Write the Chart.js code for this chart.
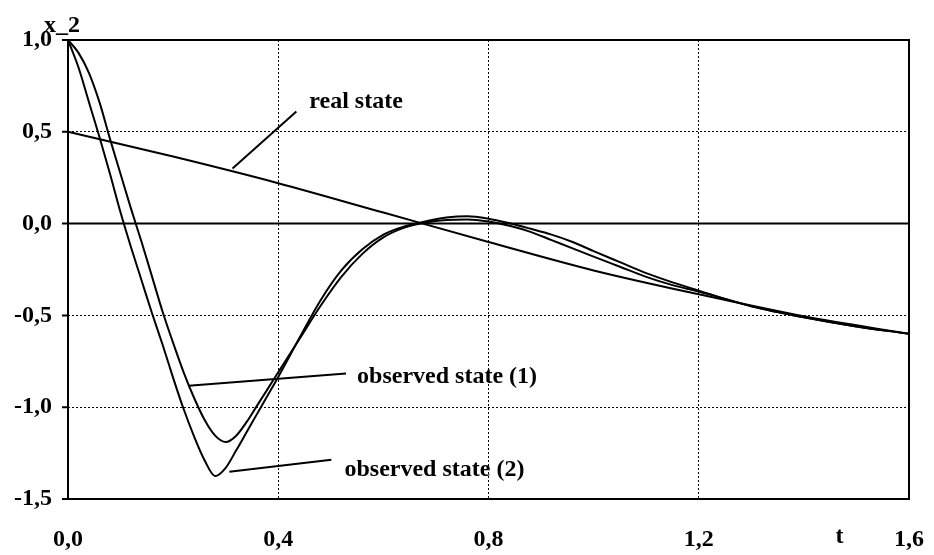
<!DOCTYPE html>
<html>
<head>
<meta charset="utf-8">
<script src="https://cdn.jsdelivr.net/npm/chart.js@4.4.1/dist/chart.umd.min.js"></script>
<style>
  html, body { margin: 0; padding: 0; background: #fff; }
</style>
</head>
<body>
<canvas id="chart" width="934" height="555"></canvas>
<script>
// tick labels (decimal comma as in the original)
const xTickLabels = ['0,0', '0,4', '0,8', '1,2', '1,6'];
const yTickLabels = ['-1,5', '-1,0', '-0,5', '0,0', '0,5', '1,0'];

// real state x_2(t)
const tReal = [0, 0.2, 0.4, 0.6, 0.8, 1.0, 1.2, 1.4, 1.6];
const realState = [0.5, 0.365, 0.22, 0.06, -0.10, -0.255, -0.385, -0.505, -0.60];

// observed states
const tObs = [0, 0.02, 0.04, 0.06, 0.08, 0.10, 0.12, 0.14, 0.16, 0.18, 0.20,
    0.22, 0.24, 0.26, 0.28, 0.30, 0.32, 0.34, 0.36, 0.38, 0.40,
    0.44, 0.48, 0.52, 0.56, 0.60, 0.64, 0.68, 0.72, 0.76, 0.80,
    0.84, 0.88, 0.92, 0.96, 1.00, 1.05, 1.10, 1.15, 1.20, 1.25,
    1.30, 1.40, 1.50, 1.60];
const observed1 = [1.0, 0.93, 0.82, 0.66, 0.46, 0.27, 0.08, -0.10, -0.29, -0.48, -0.65,
    -0.81, -0.95, -1.07, -1.155, -1.19, -1.155, -1.08, -0.99, -0.90, -0.81,
    -0.63, -0.45, -0.29, -0.165, -0.075, -0.022, 0.006, 0.02, 0.023, 0.012,
    -0.012, -0.045, -0.09, -0.135, -0.18, -0.235, -0.29, -0.335, -0.37, -0.41,
    -0.45, -0.51, -0.56, -0.60];
const observed2 = [1.0, 0.85, 0.66, 0.47, 0.27, 0.06, -0.13, -0.31, -0.49, -0.66, -0.84,
    -1.01, -1.16, -1.29, -1.375, -1.33, -1.235, -1.135, -1.035, -0.935, -0.835,
    -0.625, -0.42, -0.255, -0.14, -0.06, -0.015, 0.012, 0.033, 0.04, 0.027,
    0.002, -0.028, -0.06, -0.10, -0.15, -0.21, -0.27, -0.32, -0.365, -0.41,
    -0.45, -0.51, -0.56, -0.60];

// annotation labels with their leader lines, in data units
const notes = [
    { text: 'real state', at: [0.459, 0.627], from: [0.313, 0.30], to: [0.4345, 0.61] },
    { text: 'observed state (1)', at: [0.550, -0.866], from: [0.2296, -0.883], to: [0.529, -0.817] },
    { text: 'observed state (2)', at: [0.526, -1.373], from: [0.307, -1.351], to: [0.501, -1.286] }
];

const FONT = '"Liberation Serif", "Times New Roman", serif';

function toPoints(ts, vs) {
    return ts.map((t, i) => ({ x: t, y: vs[i] }));
}

function lineStyle(data) {
    return {
        data: data,
        borderColor: '#000',
        borderWidth: 2,
        pointRadius: 0,
        fill: false,
        cubicInterpolationMode: 'monotone',
        clip: false
    };
}

// solid frame, zero line, y tick marks, labels and leader lines
const decorations = {
    id: 'decorations',
    beforeDatasetsDraw(chart) {
        const { ctx, chartArea: a, scales: { x, y } } = chart;
        ctx.save();
        ctx.strokeStyle = '#000';
        ctx.lineWidth = 2;
        ctx.strokeRect(a.left, a.top, a.right - a.left, a.bottom - a.top);
        const y0 = y.getPixelForValue(0);
        ctx.beginPath();
        ctx.moveTo(a.left, y0);
        ctx.lineTo(a.right, y0);
        y.ticks.forEach(t => {
            const py = y.getPixelForValue(t.value);
            ctx.moveTo(a.left - 6, py);
            ctx.lineTo(a.left, py);
        });
        ctx.stroke();
        ctx.restore();
    },
    afterDraw(chart) {
        const { ctx, chartArea: a, scales: { x, y } } = chart;
        ctx.save();
        ctx.strokeStyle = '#000';
        ctx.fillStyle = '#000';
        ctx.lineWidth = 2;
        notes.forEach(n => {
            ctx.beginPath();
            ctx.moveTo(x.getPixelForValue(n.from[0]), y.getPixelForValue(n.from[1]));
            ctx.lineTo(x.getPixelForValue(n.to[0]), y.getPixelForValue(n.to[1]));
            ctx.stroke();
            ctx.font = 'bold 24px ' + FONT;
            ctx.textAlign = 'left';
            ctx.textBaseline = 'alphabetic';
            ctx.fillText(n.text, x.getPixelForValue(n.at[0]), y.getPixelForValue(n.at[1]));
        });
        // axis names
        ctx.font = 'bold 24px ' + FONT;
        ctx.textAlign = 'center';
        ctx.fillText('x_2', a.left - 6, a.top - 8);
        ctx.fillText('t', x.getPixelForValue(1.468), a.bottom + 44);
        ctx.restore();
    }
};

const chart = new Chart(document.getElementById('chart').getContext('2d'), {
    type: 'line',
    data: {
        datasets: [
            lineStyle(toPoints(tReal, realState)),
            lineStyle(toPoints(tObs, observed1)),
            lineStyle(toPoints(tObs, observed2))
        ]
    },
    options: {
        responsive: false,
        animation: false,
        layout: { padding: { top: 40, right: 25, left: 0, bottom: 0 } },
        plugins: {
            legend: { display: false },
            tooltip: { enabled: false }
        },
        scales: {
            x: {
                type: 'linear',
                min: 0,
                max: 1.6,
                afterFit: s => { s.height = 56; s.paddingLeft = 0; s.paddingRight = 0; },
                afterBuildTicks: s => { s.ticks = xTickLabels.map((_, i) => ({ value: i * 0.4 })); },
                ticks: {
                    color: '#000',
                    padding: 26,
                    maxRotation: 0,
                    font: { family: FONT, size: 24, weight: 'bold' },
                    callback: (v, i) => xTickLabels[i]
                },
                grid: { color: '#000', lineWidth: 1, drawTicks: false },
                border: { display: false, dash: [2, 2] }
            },
            y: {
                type: 'linear',
                min: -1.5,
                max: 1.0,
                afterFit: s => { s.width = 68; s.paddingTop = 0; s.paddingBottom = 0; },
                afterBuildTicks: s => { s.ticks = yTickLabels.map((_, i) => ({ value: -1.5 + i * 0.5 })); },
                ticks: {
                    color: '#000',
                    padding: 16,
                    font: { family: FONT, size: 24, weight: 'bold' },
                    callback: (v, i) => yTickLabels[i]
                },
                grid: { color: '#000', lineWidth: 1, drawTicks: false },
                border: { display: false, dash: [2, 2] }
            }
        }
    },
    plugins: [decorations]
});
</script>
</body>
</html>
